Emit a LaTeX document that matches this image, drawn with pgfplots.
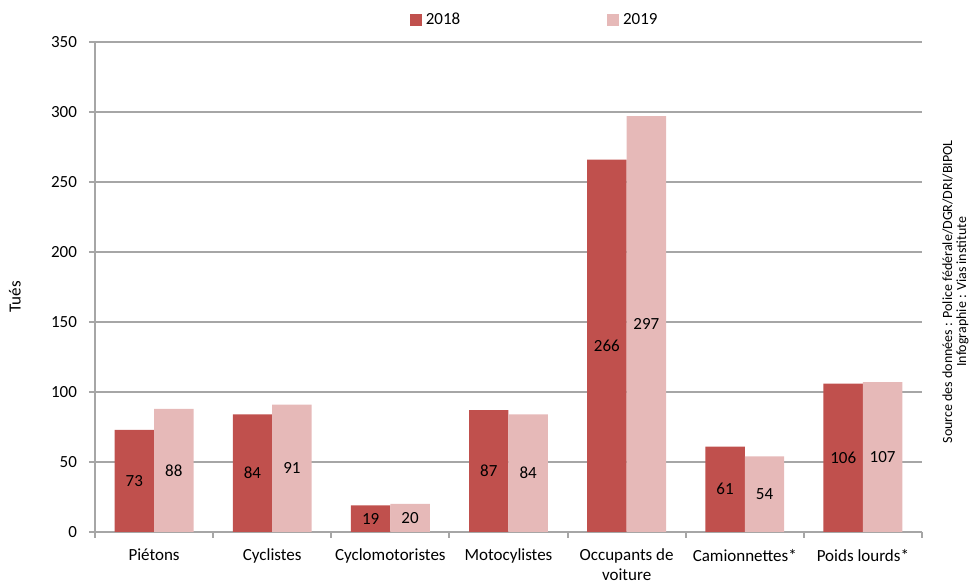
\documentclass[border=0pt]{standalone}
\usepackage{pgfplots}
\pgfplotsset{compat=1.18}
\usepackage{pgfplotstable}
\usepackage{fontspec}
\setmainfont{Carlito}
\definecolor{c18}{HTML}{C0504D}
\definecolor{c19}{HTML}{E6B9B8}
\definecolor{gridc}{HTML}{A6A6A6}

\pgfplotstableread{
x a b
0 73 88
1 84 91
2 19 20
3 87 84
4 266 297
5 61 54
6 106 107
}\data

\begin{document}
\fontsize{8.5}{10}\selectfont
\begin{tikzpicture}
\path[use as bounding box] (-47.5pt,-25.5pt) rectangle (438pt,266pt);
\begin{axis}[
  at={(0,0)}, anchor=south west,
  width=413.5pt, height=245pt, scale only axis,
  xmin=-0.5, xmax=6.5, ymin=0, ymax=350,
  ytick={0,50,...,350},
  xtick={0,...,6},
  xticklabels={Piétons,Cyclistes,Cyclomotoristes,Motocylistes,{Occupants de\\voiture},Camionnettes*,Poids lourds*},
  xticklabel style={align=center, font=\fontsize{8.5}{10}\selectfont, yshift=-2.5pt},
  yticklabel style={font=\fontsize{8.5}{10}\selectfont, xshift=-3pt},
  /pgf/number format/assume math mode=true,
  minor xtick={-0.5,0.5,...,6.5},
  axis x line*=bottom, axis y line*=left,
  axis line style={gridc, line width=1pt, -},
  ymajorgrids, grid style={gridc, line width=0.6pt},
  tick align=outside,
  major tick length=3pt, minor tick length=3pt,
  major x tick style={draw=none},
  minor x tick style={gridc, line width=1pt},
  y tick style={gridc, line width=1pt},
  ylabel={Tués},
  ylabel style={at={(axis description cs:0,0.48)}, anchor=center, rotate=0, yshift=40pt, font=\fontsize{8.5}{10}\selectfont},
  legend columns=2,
  legend style={draw=none, fill=none, at={(axis description cs:0.533,1.045)}, anchor=center,
    font=\fontsize{8.5}{10}\selectfont,
    /tikz/every even column/.append style={column sep=71.5pt}},
  clip=false,
]
\addplot[ybar, bar width=0.334, bar shift=-0.167, fill=c18, draw=none, forget plot] table[x=x, y=a] {\data};
\addplot[ybar, bar width=0.334, bar shift=0.167, fill=c19, draw=none, forget plot] table[x=x, y=b] {\data};
\addplot[only marks, mark=none, forget plot, nodes near coords, point meta=explicit,
  every node near coord/.append style={anchor=center, font=\fontsize{8.5}{10}\selectfont, text=black}]
  table[x expr=\thisrow{x}-0.167, y expr=\thisrow{a}/2, meta=a] {\data};
\addplot[only marks, mark=none, forget plot, nodes near coords, point meta=explicit,
  every node near coord/.append style={anchor=center, font=\fontsize{8.5}{10}\selectfont, text=black}]
  table[x expr=\thisrow{x}+0.167, y expr=\thisrow{b}/2, meta=b] {\data};
\addlegendimage{legend image code/.code={\fill[c18] (0pt,-2.75pt) rectangle (5.5pt,2.75pt);}}
\addlegendentry{2018}
\addlegendimage{legend image code/.code={\fill[c19] (0pt,-2.75pt) rectangle (5.5pt,2.75pt);}}
\addlegendentry{2019}
\node[rotate=90, anchor=center, font=\fontsize{7}{8}\selectfont] at (rel axis cs:1.031,0.49) {Source des données : Police fédérale/DGR/DRI/BIPOL};
\node[rotate=90, anchor=center, font=\fontsize{7}{8}\selectfont] at (rel axis cs:1.049,0.49) {Infographie : Vias institute};
\end{axis}
\end{tikzpicture}
\end{document}
